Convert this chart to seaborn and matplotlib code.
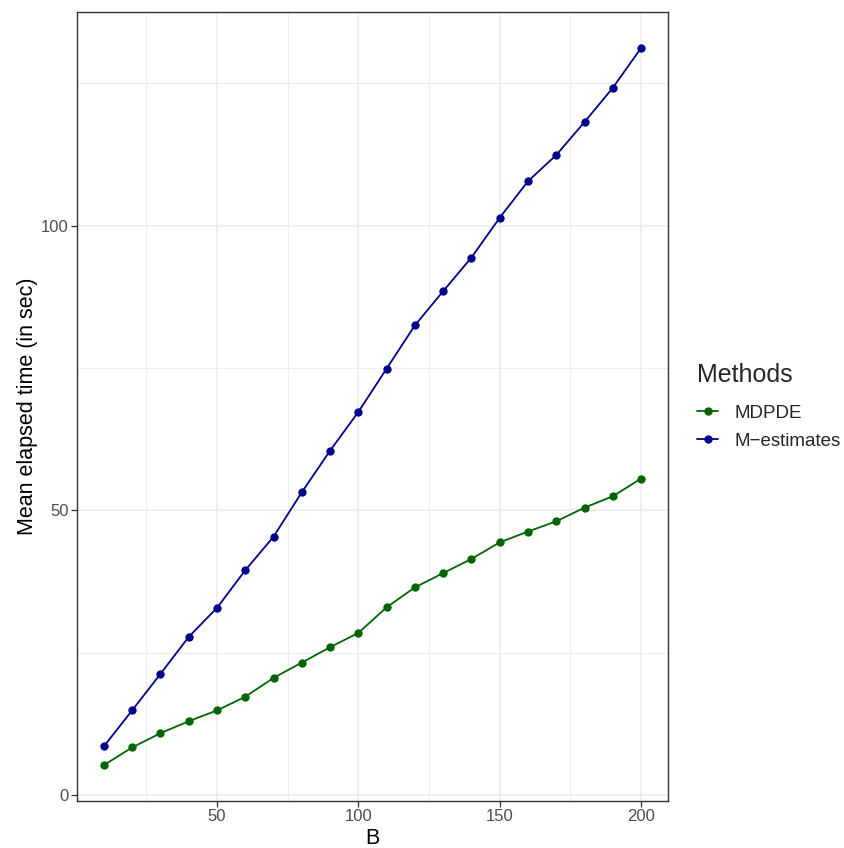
import numpy as np
import pandas as pd
import matplotlib
matplotlib.use("Agg")
import matplotlib.pyplot as plt
import seaborn as sns
from matplotlib.ticker import MultipleLocator

B = [10, 20, 30, 40, 50, 60, 70, 80, 90, 100, 110, 120, 130, 140, 150, 160, 170, 180, 190, 200]
mdpde = [5.3, 8.4, 10.9, 13.0, 14.9, 17.3, 20.6, 23.3, 26.0, 28.5, 33.0, 36.5, 39.0, 41.5, 44.4, 46.3, 48.1, 50.5, 52.5, 55.6]
mest = [8.6, 14.9, 21.3, 27.8, 32.9, 39.5, 45.4, 53.2, 60.5, 67.3, 74.9, 82.5, 88.5, 94.4, 101.4, 107.8, 112.4, 118.2, 124.2, 131.2]
methods = ["MDPDE", "M\u2212estimates"]
colors = ["#006400", "#00008B"]

df = pd.DataFrame({
    "B": B + B,
    "time": mdpde + mest,
    "Methods": [methods[0]] * len(B) + [methods[1]] * len(B),
})

sns.set_theme(style="white")
plt.rcParams["font.family"] = ["Liberation Sans", "DejaVu Sans"]

fig = plt.figure(figsize=(8.45, 8.48), dpi=100)
ax = fig.add_axes([77/845, 47/848, (668-77)/845, (801-12)/848])

sns.lineplot(data=df, x="B", y="time", hue="Methods", hue_order=methods,
             palette=colors, marker="o", markersize=6.0, markeredgewidth=0,
             linewidth=1.3, ax=ax)

ax.set_xlim(0.5, 209.5)
ax.set_ylim(-1.0, 137.5)
ax.xaxis.set_major_locator(MultipleLocator(50))
ax.xaxis.set_minor_locator(MultipleLocator(25))
ax.yaxis.set_major_locator(MultipleLocator(50))
ax.yaxis.set_minor_locator(MultipleLocator(25))
ax.grid(which="major", color="#EBEBEB", linewidth=1.1)
ax.grid(which="minor", color="#EBEBEB", linewidth=0.6)
ax.set_axisbelow(True)
for s in ax.spines.values():
    s.set_color("#333333")
    s.set_linewidth(1.0)
ax.tick_params(axis="both", which="major", length=4, width=0.9, color="#333333",
               labelsize=12, labelcolor="#4D4D4D", pad=2, bottom=True, left=True)
ax.tick_params(axis="both", which="minor", length=0)
ax.set_xlabel("B", fontsize=15.5, color="black", labelpad=3)
ax.set_ylabel("Mean elapsed time (in sec)", fontsize=15.5, color="black", labelpad=2)

h, l = ax.get_legend_handles_labels()
ax.get_legend().remove()
leg = fig.legend(h, l, title="Methods", loc="upper left",
                 bbox_to_anchor=(680/845, 1 - 346/848), frameon=False,
                 fontsize=13.5, title_fontsize=18, handlelength=1.15,
                 handletextpad=0.85, labelspacing=0.57)
leg._legend_box.align = "left"
leg._legend_box.sep = 13

fig.savefig("out.png", dpi=100)
